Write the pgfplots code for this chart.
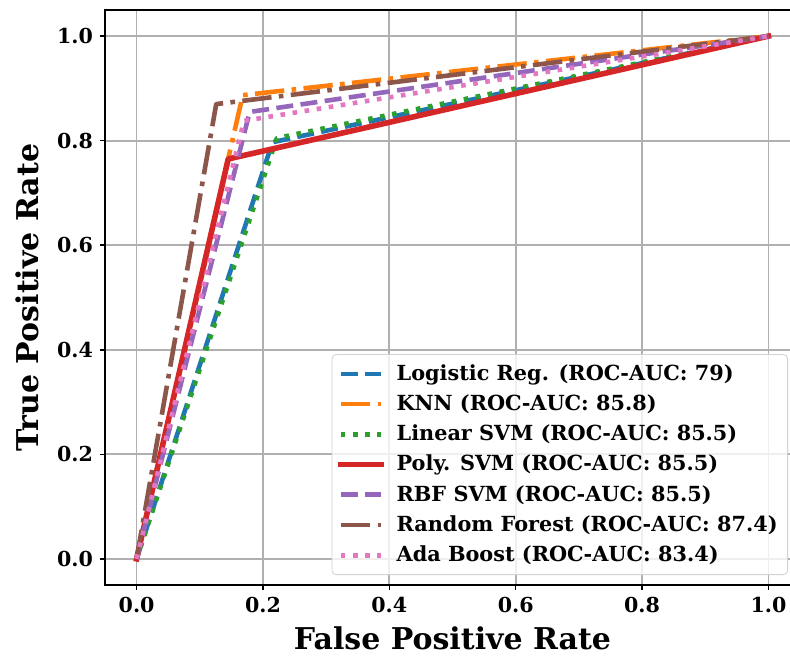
\documentclass[border=0pt]{standalone}
\usepackage{fontspec}
\setmainfont{DejaVu Serif}
\usepackage{pgfplots}
\pgfplotsset{compat=1.18}
\usetikzlibrary{calc}
\definecolor{c0}{HTML}{1F77B4}
\definecolor{c1}{HTML}{FF7F0E}
\definecolor{c2}{HTML}{2CA02C}
\definecolor{c3}{HTML}{D62728}
\definecolor{c4}{HTML}{9467BD}
\definecolor{c5}{HTML}{8C564B}
\definecolor{c6}{HTML}{E377C2}
\definecolor{gridc}{HTML}{B0B0B0}
\tikzset{
 dashedmpl/.style={line width=2.3pt,dash pattern=on 8.5pt off 3.7pt},
 dashdotmpl/.style={line width=2.3pt,dash pattern=on 14.7pt off 3.7pt on 2.3pt off 3.7pt},
 dottedmpl/.style={line width=2.3pt,dash pattern=on 2.3pt off 3.8pt}}
\begin{document}
\begin{tikzpicture}
\begin{axis}[name=ax,scale only axis,width=347.5pt,height=287.5pt,
 xmin=-0.05,xmax=1.05,ymin=-0.05,ymax=1.05,
 xtick={0,0.2,0.4,0.6,0.8,1.0},xticklabels={0.0,0.2,0.4,0.6,0.8,1.0},
 ytick={0,0.2,0.4,0.6,0.8,1.0},yticklabels={0.0,0.2,0.4,0.6,0.8,1.0},
 xtick pos=bottom,ytick pos=left,tick align=outside,
 major tick length=2.5pt,tick style={black,line width=0.8pt},
 axis line style={black,line width=0.9pt},
 grid=major,grid style={gridc,line width=0.9pt},
 tick label style={font=\fontsize{10.3}{12}\selectfont\bfseries},
 label style={font=\fontsize{15}{18}\selectfont\bfseries},
 xlabel={False Positive Rate},ylabel={True Positive Rate},
 ylabel style={yshift=2pt},
 legend cell align=left,
 legend image code/.code={\draw[#1] (0pt,0pt) -- (20pt,0pt); \path (24.5pt,0pt);},
 legend style={at={(1,0)},anchor=south east,xshift=-6pt,yshift=5pt,
  font=\fontsize{10.4}{12.5}\selectfont\bfseries,
  draw=gray!35,rounded corners=2pt,fill=white,fill opacity=0.8,
  draw opacity=1,text opacity=1,row sep=1.7pt,inner sep=3pt},
 every axis plot/.append style={line join=round}]
\addplot[c0,dashedmpl] coordinates {(0,0) (0.215,0.797) (1,1)};
\addlegendentry{Logistic Reg. (ROC-AUC: 79)}
\addplot[c1,dashdotmpl] coordinates {(0,0) (0.168,0.887) (1,1)};
\addlegendentry{KNN (ROC-AUC: 85.8)}
\addplot[c2,dottedmpl] coordinates {(0,0) (0.222,0.805) (1,1)};
\addlegendentry{Linear SVM (ROC-AUC: 85.5)}
\addplot[c3,line width=2.8pt,line cap=rect] coordinates {(0,0) (0.145,0.765) (1,1)};
\addlegendentry{Poly. SVM (ROC-AUC: 85.5)}
\addplot[c4,dashedmpl] coordinates {(0,0) (0.179,0.855) (1,1)};
\addlegendentry{RBF SVM (ROC-AUC: 85.5)}
\addplot[c5,dashdotmpl] coordinates {(0,0) (0.126,0.870) (1,1)};
\addlegendentry{Random Forest (ROC-AUC: 87.4)}
\addplot[c6,dottedmpl] coordinates {(0,0) (0.170,0.838) (1,1)};
\addlegendentry{Ada Boost (ROC-AUC: 83.4)}
\end{axis}
\pgfresetboundingbox
\path[use as bounding box] ($(ax.south west)+(-52.5pt,-36.5pt)$) rectangle ($(ax.north west)+(342.5pt,5pt)$);
\end{tikzpicture}
\end{document}
